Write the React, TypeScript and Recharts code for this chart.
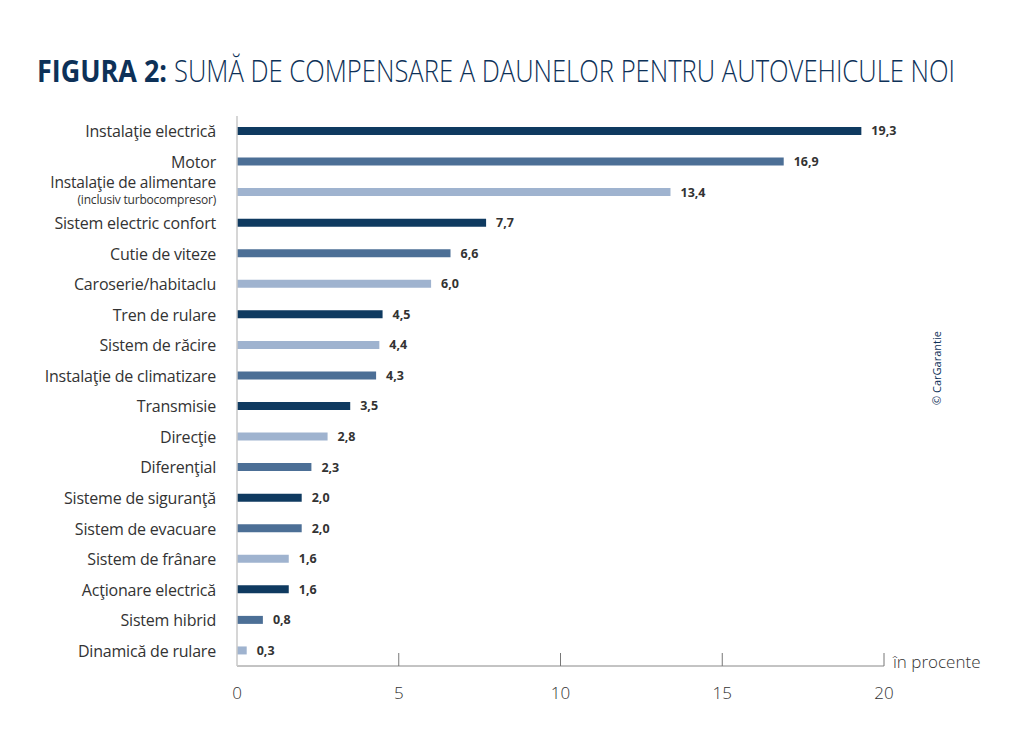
import React from 'react';
import { BarChart, Bar, XAxis, YAxis, Cell, LabelList } from 'recharts';

const categories = [
  'Instalaţie electrică',
  'Motor',
  'Instalaţie de alimentare',
  'Sistem electric confort',
  'Cutie de viteze',
  'Caroserie/habitaclu',
  'Tren de rulare',
  'Sistem de răcire',
  'Instalaţie de climatizare',
  'Transmisie',
  'Direcţie',
  'Diferenţial',
  'Sisteme de siguranţă',
  'Sistem de evacuare',
  'Sistem de frânare',
  'Acţionare electrică',
  'Sistem hibrid',
  'Dinamică de rulare',
];
const subLabels: Record<string, string> = {
  'Instalaţie de alimentare': '(inclusiv turbocompresor)',
};
const values = [19.3, 16.9, 13.4, 7.7, 6.6, 6.0, 4.5, 4.4, 4.3, 3.5, 2.8, 2.3, 2.0, 2.0, 1.6, 1.6, 0.8, 0.3];
const shades = ['dark', 'mid', 'light', 'dark', 'mid', 'light', 'dark', 'light', 'mid', 'dark', 'light', 'mid', 'dark', 'mid', 'light', 'dark', 'mid', 'light'];
const xTicks = [0, 5, 10, 15, 20];

const palette: Record<string, string> = { dark: '#0f3a60', mid: '#4c6f96', light: '#9fb3cf' };
const data = categories.map((c, i) => ({ name: c, value: values[i], shade: shades[i] }));

const FONT = '"Open Sans", "Noto Sans", sans-serif';

const YTick = (props: any) => {
  const { x, y, payload } = props;
  const sub = subLabels[payload.value];
  if (sub) {
    return (
      <g>
        <text x={x} y={y - 4} textAnchor="end" fontFamily={FONT} fontSize={15.5} fill="#333" letterSpacing={-0.2}>{payload.value}</text>
        <text x={x} y={y + 12} textAnchor="end" fontFamily={FONT} fontSize={12} fill="#333" letterSpacing={-0.2}>{sub}</text>
      </g>
    );
  }
  return (
    <text x={x} y={y} dy={6} textAnchor="end" fontFamily={FONT} fontSize={16} fill="#333" letterSpacing={-0.2}>{payload.value}</text>
  );
};

const XTick = (props: any) => {
  const { x, y, payload } = props;
  return (
    <g>
      {payload.value !== 0 && <line x1={x} x2={x} y1={y - 13} y2={y} stroke="#777" strokeWidth={1} />}
      <text x={x} y={y + 33} textAnchor="middle" fontFamily={FONT} fontSize={17} fill="#333" fontWeight={300}>{payload.value}</text>
    </g>
  );
};

export default function App() {
  return (
    <div style={{ position: 'absolute', left: 0, top: 0, width: 1013, height: 756, background: '#fff' }}>
      <svg style={{ position: 'absolute', left: 0, top: 0 }} width={1013} height={756}>
        <text x={37} y={82} fontFamily={FONT} fontSize={31} fontWeight={700} fill="#0d3158" textLength={130} lengthAdjust="spacingAndGlyphs">FIGURA 2:</text>
        <text x={174} y={82} fontFamily={FONT} fontSize={31} fontWeight={300} fill="#0d3158" textLength={781} lengthAdjust="spacingAndGlyphs">SUMĂ DE COMPENSARE A DAUNELOR PENTRU AUTOVEHICULE NOI</text>
        <text x={893} y={668} fontFamily={FONT} fontSize={17} fill="#333" fontWeight={300}>în procente</text>
        <text transform="translate(941,368) rotate(-90)" textAnchor="middle" fontFamily={FONT} fontSize={11} fill="#0d3158">© CarGarantie</text>
      </svg>
      <div style={{ position: 'absolute', left: 0, top: 0 }}>
        <BarChart
          width={1013}
          height={756}
          data={data}
          layout="vertical"
          margin={{ top: 116, right: 129, left: 0, bottom: 0 }}
          barCategoryGap={0}
        >
          <XAxis
            type="number"
            domain={[0, 20]}
            ticks={xTicks}
            axisLine={{ stroke: '#888', strokeWidth: 1 }}
            tickLine={false}
            tickSize={0}
            tickMargin={0}
            tick={<XTick />}
            height={90}
            interval={0}
          />
          <YAxis
            type="category"
            dataKey="name"
            width={237}
            axisLine={{ stroke: '#c8c8c8', strokeWidth: 1.5 }}
            tickLine={false}
            tickSize={0}
            tickMargin={21}
            tick={<YTick />}
            interval={0}
          />
          <Bar dataKey="value" barSize={8} isAnimationActive={false}>
            {data.map((d, i) => (
              <Cell key={i} fill={palette[d.shade]} />
            ))}
            <LabelList
              dataKey="value"
              position="right"
              offset={10}
              formatter={(v: any) => Number(v).toFixed(1).replace('.', ',')}
              style={{ fontFamily: FONT, fontSize: 12.5, fontWeight: 700, fill: '#333' }}
            />
          </Bar>
        </BarChart>
      </div>
    </div>
  );
}
